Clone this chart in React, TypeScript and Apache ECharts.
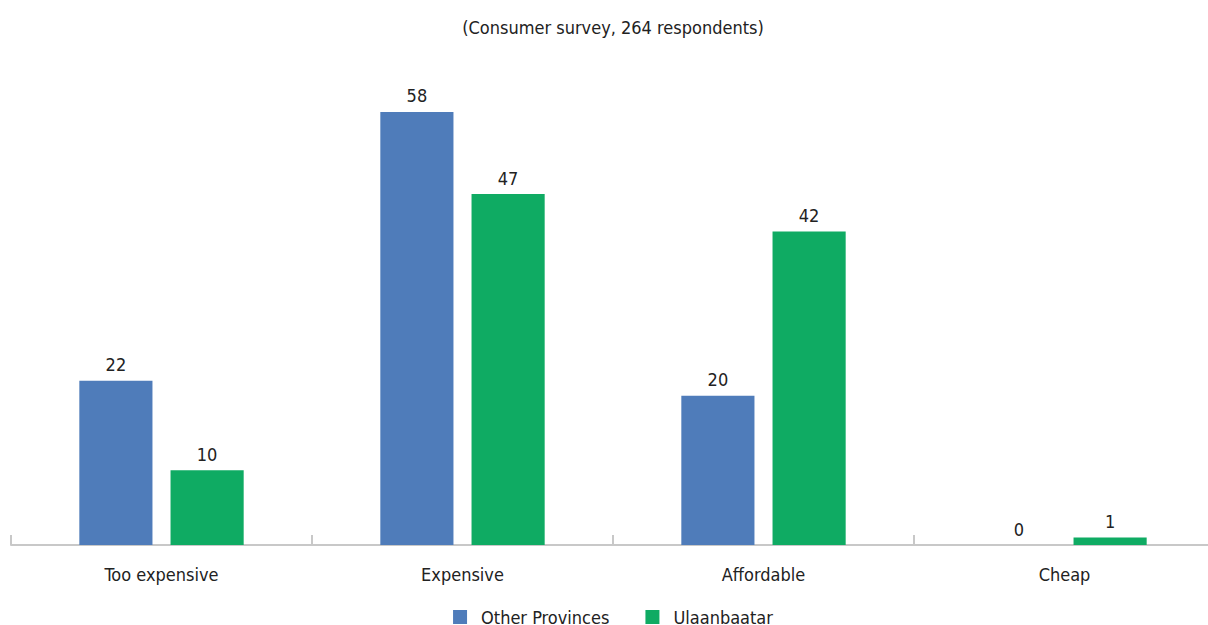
import React, { useEffect, useRef } from "react";
import * as echarts from "echarts";

const categories = ["Too expensive", "Expensive", "Affordable", "Cheap"];
const otherProvinces = [22, 58, 20, 0];
const ulaanbaatar = [10, 47, 42, 1];
const seriesNames = ["Other Provinces", "Ulaanbaatar"];
const titleText = "(Consumer survey, 264 respondents)";

const FONT = "'Liberation Sans Narrow', 'DejaVu Sans Condensed', 'Roboto', sans-serif";

export default function App() {
  const ref = useRef<HTMLDivElement>(null);
  useEffect(() => {
    if (!ref.current) return;
    const chart = echarts.init(ref.current, undefined, { renderer: "svg" });
    const labelStyle = {
      show: true,
      position: "top" as const,
      distance: 7,
      color: "#222",
      fontSize: 18,
      fontFamily: FONT,
    };
    chart.setOption({
      animation: false,
      backgroundColor: "#fff",
      title: {
        text: titleText,
        left: "center",
        top: 13,
        textStyle: { color: "#222", fontSize: 18, fontWeight: "normal", fontFamily: FONT },
      },
      legend: {
        data: seriesNames,
        top: 603,
        left: "center",
        itemWidth: 14,
        itemHeight: 14,
        itemGap: 36,
        icon: "rect",
        textStyle: { color: "#222", fontSize: 18, fontFamily: FONT, padding: [0, 0, 0, 9] },
      },
      grid: { left: 11, right: 11, top: 97, bottom: 80, containLabel: false },
      xAxis: {
        type: "category",
        data: categories,
        axisLine: { show: true, lineStyle: { color: "#c8c8c8", width: 2 } },
        axisTick: { show: true, interval: 0, inside: true, length: 10, lineStyle: { color: "#c8c8c8", width: 2 } },
        axisLabel: { color: "#222", fontSize: 18, margin: 20, fontFamily: FONT },
      },
      yAxis: {
        type: "value",
        min: 0,
        max: 60,
        show: false,
        splitLine: { show: false },
      },
      series: [
        {
          name: seriesNames[0],
          type: "bar",
          data: otherProvinces,
          barWidth: "24.3%",
          barGap: "24.7%",
          itemStyle: { color: "#4f7cba" },
          label: labelStyle,
        },
        {
          name: seriesNames[1],
          type: "bar",
          data: ulaanbaatar,
          barWidth: "24.3%",
          itemStyle: { color: "#0fab63" },
          label: labelStyle,
        },
      ],
    });
    return () => chart.dispose();
  }, []);
  return (
    <div
      ref={ref}
      style={{ position: "fixed", left: 0, top: 0, width: 1226, height: 625, background: "#fff" }}
    />
  );
}
